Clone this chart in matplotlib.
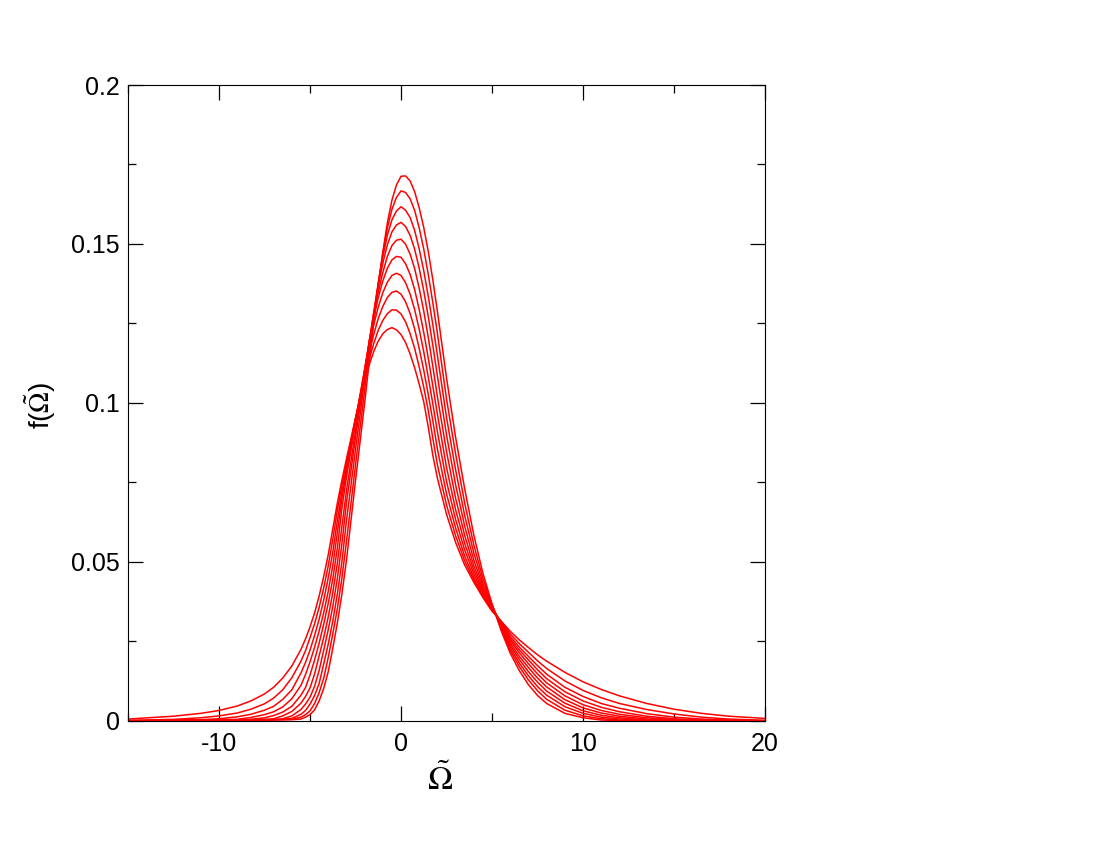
import numpy as np
import matplotlib
matplotlib.use("Agg")
import matplotlib.pyplot as plt
from matplotlib.ticker import MultipleLocator, FuncFormatter

plt.rcParams['font.family'] = ['Liberation Sans', 'DejaVu Sans']
plt.rcParams['mathtext.fontset'] = 'stix'
plt.rcParams['axes.unicode_minus'] = False

omega = [-15, -12.5, -11, -10, -9, -8.25, -7.5, -7, -6.5, -6, -5.5, -5.25, -5, -4.75,
         -4.5, -4.25, -4, -3.75, -3.5, -3.25, -3, -2.5, -2, -1.75, -1.5, -1.25, -1,
         -0.75, -0.5, -0.25, 0, 0.25, 0.5, 0.75, 1, 1.25, 1.5, 1.75, 2, 2.5, 3, 3.5,
         4, 4.5, 5, 5.5, 6, 6.5, 7, 7.5, 8, 9, 10, 11, 12, 13.5, 15, 16.5, 18, 20]

# f values in units of 1e-4, highest peak first
f_0 = [0, 1, 1, 2, 2, 2, 3, 3, 4, 4, 6, 12, 20, 35, 63, 102, 155, 229, 308, 399,
       505, 757, 1000, 1128, 1252, 1370, 1475, 1567, 1638, 1686, 1713, 1714, 1698, 1664, 1613, 1551,
       1475, 1386, 1287, 1078, 891, 729, 584, 464, 368, 284, 213, 158, 114, 80,
       55, 24, 10, 3, 1, 0, 0, 0, 0, 0]
f_1 = [0, 1, 1, 2, 2, 3, 3, 4, 4, 5, 12, 20, 32, 55, 89, 134, 200, 274, 353, 449,
       564, 806, 1040, 1159, 1271, 1377, 1470, 1550, 1609, 1647, 1667, 1662, 1642, 1605, 1550, 1483,
       1403, 1314, 1218, 1012, 839, 684, 553, 448, 366, 290, 222, 171, 129, 95,
       68, 34, 16, 7, 3, 1, 0, 0, 0, 0]
f_2 = [0, 1, 1, 2, 2, 3, 3, 4, 5, 8, 21, 33, 53, 80, 118, 179, 242, 314, 399, 500,
       629, 854, 1073, 1182, 1284, 1378, 1460, 1528, 1576, 1604, 1617, 1606, 1583, 1542, 1484, 1415,
       1334, 1245, 1149, 954, 789, 645, 528, 434, 364, 295, 230, 182, 142, 108,
       81, 45, 24, 12, 6, 2, 0, 0, 0, 0]
f_3 = [0, 1, 1, 2, 2, 3, 4, 4, 7, 16, 36, 53, 75, 109, 159, 222, 287, 360, 448, 557,
       686, 891, 1093, 1193, 1285, 1369, 1440, 1498, 1538, 1560, 1568, 1555, 1527, 1483, 1423, 1352,
       1270, 1180, 1084, 899, 742, 612, 506, 423, 362, 300, 238, 193, 155, 122,
       94, 56, 32, 18, 10, 3, 1, 0, 0, 0]
f_4 = [0, 1, 2, 2, 3, 4, 5, 7, 16, 30, 56, 77, 104, 148, 205, 262, 327, 404, 496, 611,
       724, 912, 1101, 1192, 1275, 1349, 1411, 1461, 1495, 1512, 1515, 1499, 1468, 1422, 1360, 1288,
       1205, 1114, 1019, 847, 700, 583, 488, 415, 360, 304, 245, 203, 168, 135,
       107, 67, 41, 25, 15, 6, 2, 1, 0, 0]
f_5 = [0, 1, 2, 3, 4, 5, 10, 17, 28, 46, 81, 105, 145, 192, 245, 304, 370, 446, 544, 669,
       766, 936, 1107, 1192, 1267, 1332, 1384, 1424, 1450, 1461, 1458, 1438, 1404, 1356, 1293, 1221,
       1140, 1052, 964, 797, 664, 558, 474, 408, 357, 307, 253, 214, 180, 148,
       120, 79, 51, 33, 21, 10, 4, 2, 1, 0]
f_6 = [0, 1, 3, 4, 5, 11, 20, 29, 44, 70, 112, 146, 186, 232, 283, 340, 408, 489, 592, 700,
       786, 947, 1104, 1180, 1246, 1302, 1347, 1380, 1401, 1408, 1401, 1378, 1342, 1293, 1231, 1160,
       1080, 996, 909, 753, 633, 537, 462, 402, 354, 310, 259, 223, 192, 161,
       133, 92, 63, 43, 29, 15, 7, 3, 1, 0]
f_7 = [1, 3, 4, 7, 13, 21, 34, 46, 68, 98, 151, 184, 223, 269, 320, 380, 450, 531, 629, 720,
       796, 950, 1093, 1159, 1216, 1266, 1304, 1332, 1348, 1352, 1342, 1318, 1281, 1232, 1171, 1102,
       1025, 943, 855, 714, 606, 518, 451, 397, 351, 312, 266, 232, 203, 174,
       147, 106, 77, 55, 40, 23, 12, 6, 3, 1]
f_8 = [2, 5, 10, 16, 25, 37, 54, 72, 98, 136, 188, 221, 262, 306, 357, 418, 488, 571, 663, 742,
       811, 952, 1080, 1138, 1187, 1229, 1260, 1281, 1293, 1292, 1280, 1255, 1218, 1171, 1113, 1049,
       975, 888, 805, 679, 582, 503, 443, 392, 348, 313, 274, 243, 216, 189,
       165, 126, 96, 73, 55, 36, 22, 12, 6, 2]
f_9 = [6, 15, 24, 33, 47, 63, 85, 106, 135, 173, 225, 258, 296, 340, 393, 454, 523, 604, 685, 757,
       824, 953, 1068, 1120, 1162, 1195, 1218, 1231, 1237, 1230, 1215, 1190, 1154, 1110, 1059, 1003,
       923, 834, 763, 650, 561, 490, 436, 388, 345, 314, 282, 255, 231, 208,
       188, 153, 123, 99, 79, 55, 37, 24, 15, 8]

curves = [f_0, f_1, f_2, f_3, f_4, f_5, f_6, f_7, f_8, f_9]

fig = plt.figure(figsize=(11, 8.5), dpi=100)
ax = fig.add_axes([0.1164, 0.1518, 0.5791, 0.7482])

for f in curves:
    ax.plot(omega, np.array(f) * 1e-4, color='red', lw=1.1)

ax.set_xlim(-15, 20)
ax.set_ylim(0, 0.2)
ax.xaxis.set_major_locator(MultipleLocator(10))
ax.xaxis.set_minor_locator(MultipleLocator(5))
ax.yaxis.set_major_locator(MultipleLocator(0.05))
ax.yaxis.set_minor_locator(MultipleLocator(0.025))
ax.yaxis.set_major_formatter(FuncFormatter(lambda v, p: '%g' % round(v, 3)))
ax.tick_params(which='both', direction='in', top=True, right=True, width=0.9, labelsize=18)
ax.tick_params(which='major', length=11)
ax.tick_params(axis='x', which='major', pad=8)
ax.tick_params(axis='y', which='major', pad=6)
ax.tick_params(which='minor', length=5.5)

ax.set_xlabel(r'$\tilde{\Omega}$', fontsize=24)
ax.set_ylabel(r'f($\tilde{\Omega}$)', fontsize=20)
ax.xaxis.set_label_coords(0.49, -0.066)
ax.yaxis.set_label_coords(-0.11, 0.497)

fig.savefig('out.png', dpi=100)
